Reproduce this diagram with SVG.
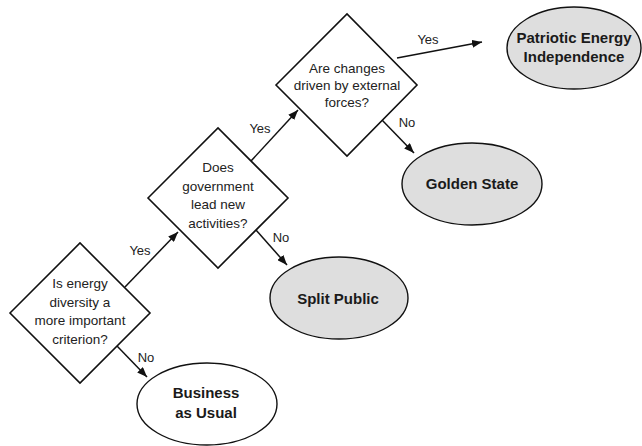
<svg xmlns="http://www.w3.org/2000/svg" width="642" height="446" viewBox="0 0 642 446">
<style>
.bg{fill:#ffffff}
.dia{fill:#ffffff;stroke:#111;stroke-width:1.6;stroke-linejoin:miter}
.ell{stroke:#111;stroke-width:1.4}
.gray{fill:#dedede}
.white{fill:#ffffff}
.q{font-family:"Liberation Sans",Arial,sans-serif;font-size:13.5px;fill:#222;text-anchor:middle}
.o{font-family:"Liberation Sans",Arial,sans-serif;font-size:15px;font-weight:bold;fill:#1a1a1a;text-anchor:middle}
.lbl{font-family:"Liberation Sans",Arial,sans-serif;font-size:13px;fill:#222;text-anchor:middle}
.con{stroke:#111;stroke-width:1.5;fill:none;marker-end:url(#arr)}
</style>
<defs>
<marker id="arr" viewBox="0 0 10 8" refX="10" refY="4" markerWidth="10" markerHeight="8" markerUnits="userSpaceOnUse" orient="auto">
<path d="M0,0 L10,4 L0,8 Z" fill="#111"/>
</marker>
</defs>
<rect class="bg" x="0" y="0" width="642" height="446"/>
<g id="connectors">
<line class="con" x1="125" y1="287" x2="178" y2="232"/>
<line class="con" x1="117" y1="346" x2="147" y2="377"/>
<line class="con" x1="251" y1="161" x2="298" y2="110"/>
<line class="con" x1="256" y1="230" x2="287" y2="265"/>
<line class="con" x1="397" y1="58" x2="482" y2="42"/>
<line class="con" x1="382" y1="120" x2="414" y2="153"/>
<text class="lbl" x="140" y="255">Yes</text>
<text class="lbl" x="146" y="362">No</text>
<text class="lbl" x="260" y="133">Yes</text>
<text class="lbl" x="281" y="242">No</text>
<text class="lbl" x="428" y="44">Yes</text>
<text class="lbl" x="407" y="127">No</text>
</g>
<g id="q1">
<polygon class="dia" points="10,313 80,243 150,313 80,383"/>
<text class="q" x="80" y="288">Is energy</text>
<text class="q" x="80" y="306.5">diversity a</text>
<text class="q" x="80" y="325">more important</text>
<text class="q" x="80" y="343.5">criterion?</text>
</g>
<g id="q2">
<polygon class="dia" points="148,198 218,128 288,198 218,268"/>
<text class="q" x="218" y="172">Does</text>
<text class="q" x="218" y="190.5">government</text>
<text class="q" x="218" y="209">lead new</text>
<text class="q" x="218" y="227.5">activities?</text>
</g>
<g id="q3">
<polygon class="dia" points="276,85 347,14 417,85 347,156"/>
<text class="q" x="347" y="72.5">Are changes</text>
<text class="q" x="347" y="90">driven by external</text>
<text class="q" x="347" y="107">forces?</text>
</g>
<g id="business">
<ellipse class="ell white" cx="207" cy="404" rx="70" ry="41"/>
<text class="o" x="206" y="398">Business</text>
<text class="o" x="206" y="418">as Usual</text>
</g>
<g id="split">
<ellipse class="ell gray" cx="339" cy="298" rx="69" ry="41"/>
<text class="o" x="338" y="304">Split Public</text>
</g>
<g id="golden">
<ellipse class="ell gray" cx="472" cy="184" rx="70" ry="41"/>
<text class="o" x="472" y="189">Golden State</text>
</g>
<g id="patriotic">
<ellipse class="ell gray" cx="574" cy="48" rx="67" ry="41"/>
<text class="o" x="574" y="43">Patriotic Energy</text>
<text class="o" x="574" y="62">Independence</text>
</g>
</svg>
